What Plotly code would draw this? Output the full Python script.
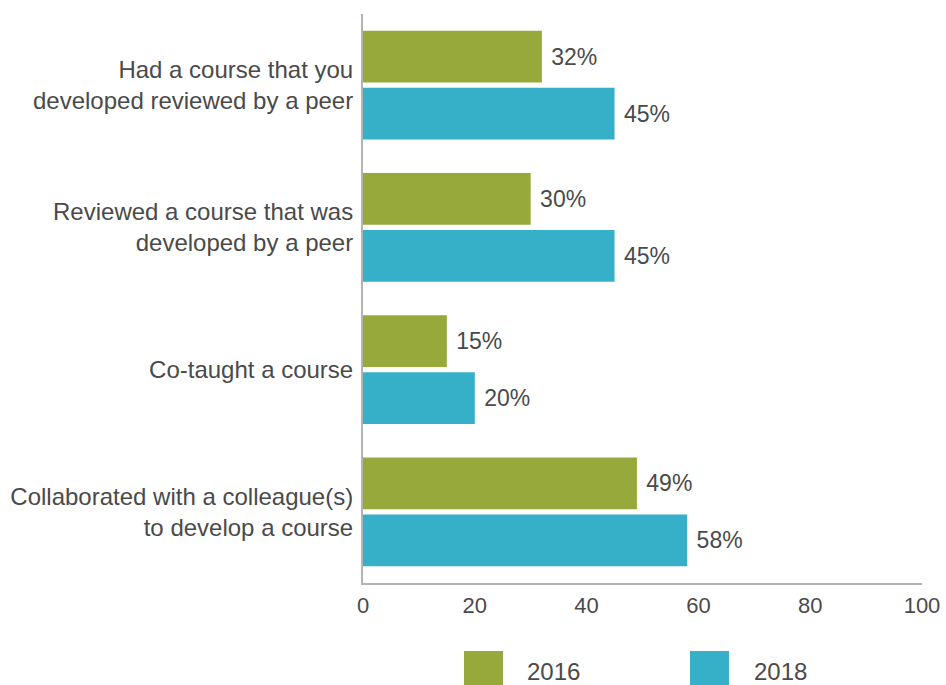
import plotly.graph_objects as go

categories = [
    "Had a course that you<br>developed reviewed by a peer",
    "Reviewed a course that was<br>developed by a peer",
    "Co-taught a course",
    "Collaborated with a colleague(s)<br>to develop a course",
]
series_names = ["2016", "2018"]
values_2016 = [32, 30, 15, 49]
values_2018 = [45, 45, 20, 58]
x_ticks = [0, 20, 40, 60, 80, 100]
colors = ["#97a93a", "#36afc8"]

FONT = "Liberation Sans, Arial, sans-serif"
TXT = "#4a4a4a"

fig = go.Figure()
for name, vals, col in zip(series_names, [values_2016, values_2018], colors):
    fig.add_trace(go.Bar(
        y=categories, x=vals, name=name, orientation="h",
        marker=dict(color=col, line=dict(width=0)),
        texttemplate=" %{x}%", textposition="outside",
        textfont=dict(family=FONT, size=23, color=TXT),
        cliponaxis=False, showlegend=False,
    ))

fig.update_layout(
    width=946, height=685,
    margin=dict(l=363, r=24, t=14, b=102),
    paper_bgcolor="white", plot_bgcolor="white",
    barmode="group", bargap=0.2, bargroupgap=0.088,
    font=dict(family=FONT, size=23, color=TXT),
)
fig.update_xaxes(
    range=[0, 100], tickvals=x_ticks, showgrid=False, zeroline=False,
    showline=True, linecolor="#b3b3b3", linewidth=2, automargin=False,
    ticks="outside", ticklen=2, tickcolor="rgba(0,0,0,0)",
    ticklabeloverflow="allow",
    tickfont=dict(family=FONT, size=22, color=TXT),
)
fig.update_yaxes(
    autorange="reversed", showgrid=False, zeroline=False,
    showline=True, linecolor="#b3b3b3", linewidth=2, automargin=False,
    ticks="outside", ticklen=3, tickcolor="rgba(0,0,0,0)",
    tickfont=dict(family=FONT, size=24, color=TXT),
)

# custom legend (large square swatches)
legend_pos = [(0.1807, 0.2504, 0.2898), (0.585, 0.6547, 0.6959)]
for (x0, x1, tx), name, col in zip(legend_pos, series_names, colors):
    fig.add_shape(type="rect", xref="paper", yref="paper",
                  x0=x0, x1=x1, y0=-0.188, y1=-0.1195,
                  fillcolor=col, line=dict(width=0))
    fig.add_annotation(xref="paper", yref="paper", x=tx, y=-0.1547,
                       text=name, showarrow=False, xanchor="left", yanchor="middle",
                       font=dict(family=FONT, size=24, color=TXT))

fig.write_html(
    "out.html",
    config={"displayModeBar": False},
    post_script="document.body.style.margin='0';document.body.style.overflow='hidden';",
)
